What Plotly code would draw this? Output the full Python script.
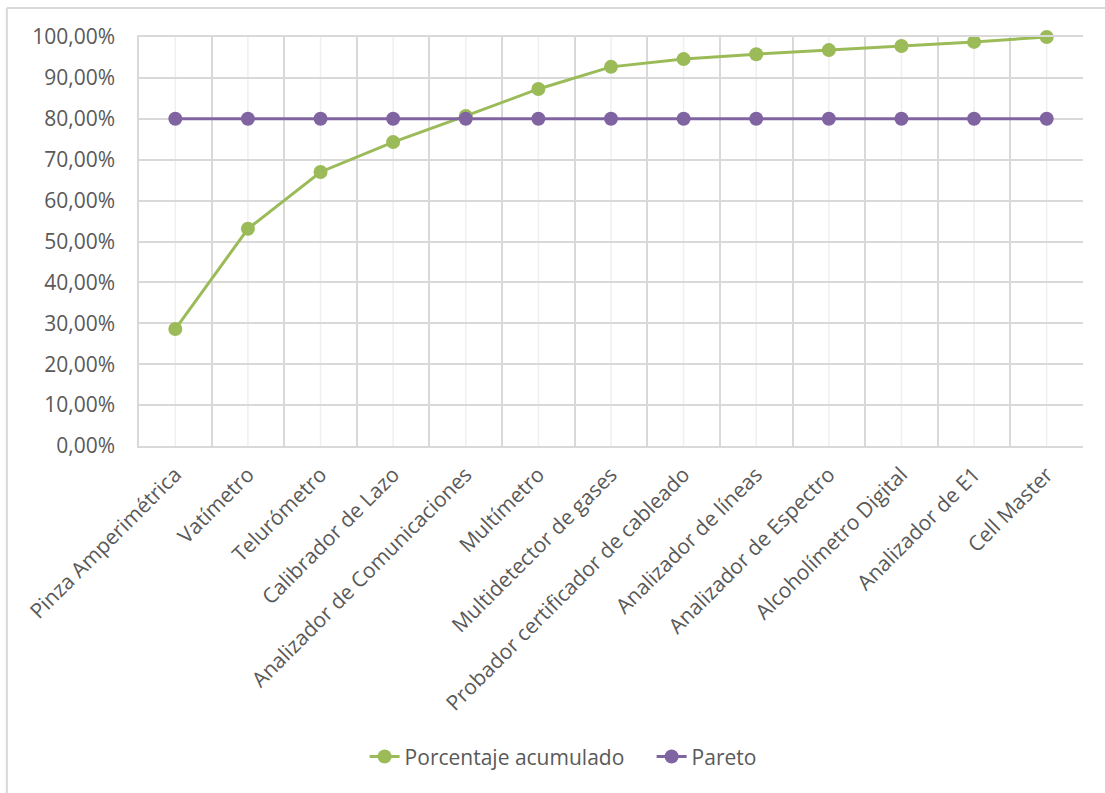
import plotly.graph_objects as go

categorias = [
    "Pinza Amperimétrica",
    "Vatímetro",
    "Telurómetro",
    "Calibrador de Lazo",
    "Analizador de Comunicaciones",
    "Multímetro",
    "Multidetector de gases",
    "Probador certificador de cableado",
    "Analizador de líneas",
    "Analizador de Espectro",
    "Alcoholímetro Digital",
    "Analizador de E1",
    "Cell Master",
]
porcentaje_acumulado = [0.286, 0.531, 0.670, 0.743, 0.807, 0.873, 0.927, 0.946,
                        0.958, 0.968, 0.978, 0.988, 1.000]
pareto = [0.80] * len(categorias)

VERDE = "#9BBB59"
MORADO = "#8064A2"
GRIS_TEXTO = "#595959"
GRIS_REJILLA = "#D9D9D9"
GRIS_CLARO = "#EFEFEF"
FUENTE = "'Open Sans', sans-serif"
TAM = 21

fig = go.Figure()
fig.add_trace(go.Scatter(
    x=categorias, y=porcentaje_acumulado, name="Porcentaje acumulado",
    mode="lines+markers", cliponaxis=False,
    line=dict(color=VERDE, width=3),
    marker=dict(color=VERDE, size=14),
))
fig.add_trace(go.Scatter(
    x=categorias, y=pareto, name="Pareto",
    mode="lines+markers", cliponaxis=False,
    line=dict(color=MORADO, width=3),
    marker=dict(color=MORADO, size=14),
))

# light vertical lines through each category centre
shapes = [
    dict(type="line", xref="x", yref="y", x0=c, x1=c, y0=0, y1=1,
         line=dict(color=GRIS_CLARO, width=1.5), layer="below")
    for c in categorias
]
# chart area border (top and left edges)
shapes += [
    dict(type="line", xref="paper", yref="paper", x0=-0.140, x1=1.03,
         y0=1.0709, y1=1.0709, line=dict(color=GRIS_REJILLA, width=2)),
    dict(type="line", xref="paper", yref="paper", x0=-0.140, x1=-0.140,
         y0=1.0709, y1=-0.85, line=dict(color=GRIS_REJILLA, width=2)),
]

fig.update_layout(
    width=1105, height=793,
    margin=dict(l=139, r=22, t=37, b=347),
    paper_bgcolor="white", plot_bgcolor="white",
    separators=",.",
    font=dict(family=FUENTE, size=TAM, color=GRIS_TEXTO),
    showlegend=True,
    legend=dict(orientation="h", x=0.239, xanchor="left", y=-0.76,
                yanchor="middle", font=dict(size=TAM, color=GRIS_TEXTO),
                entrywidth=242, entrywidthmode="pixels",
                traceorder="normal"),
    shapes=shapes,
    xaxis=dict(
        type="category", tickson="boundaries", range=[-0.5, 12.5],
        showgrid=True, gridcolor=GRIS_REJILLA, gridwidth=1.5,
        tickangle=-45, ticks="", showline=True, linecolor=GRIS_REJILLA,
        linewidth=2, mirror=True, ticklabelstandoff=6,
        tickfont=dict(size=TAM, color=GRIS_TEXTO),
    ),
    yaxis=dict(
        range=[0, 1], dtick=0.1, tickformat=".2%",
        showgrid=True, gridcolor=GRIS_REJILLA, gridwidth=1.5,
        zeroline=False, showline=True, linecolor=GRIS_REJILLA, linewidth=1.5,
        ticks="", ticklabelstandoff=18,
        tickfont=dict(size=TAM, color=GRIS_TEXTO),
    ),
)

fig.write_html("out.html")
